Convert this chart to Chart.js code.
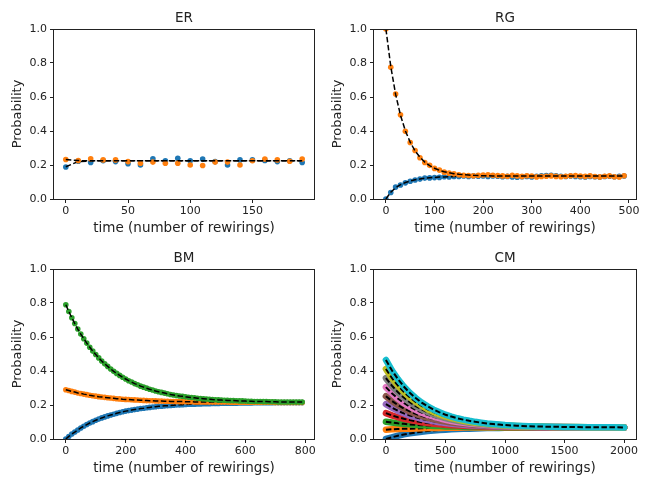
<!DOCTYPE html>
<html>
<head>
<meta charset="utf-8">
<script src="https://cdn.jsdelivr.net/npm/chart.js@4.4.0/dist/chart.umd.min.js"></script>
<style>
  html, body { margin: 0; padding: 0; background: #fff; overflow: hidden; }
  .panel { position: absolute; }
</style>
</head>
<body>
<div class="panel" style="left:0;top:0"><canvas id="er" width="323" height="240"></canvas></div>
<div class="panel" style="left:323px;top:0"><canvas id="rg" width="324" height="240"></canvas></div>
<div class="panel" style="left:0;top:240px"><canvas id="bm" width="323" height="240"></canvas></div>
<div class="panel" style="left:323px;top:240px"><canvas id="cm" width="324" height="240"></canvas></div>
<script>
// tab10 colours used by the simulation points
const C = {
    blue: '#1f77b4', orange: '#ff7f0e', green: '#2ca02c', red: '#d62728', purple: '#9467bd',
    brown: '#8c564b', pink: '#e377c2', gray: '#7f7f7f', olive: '#bcbd22', cyan: '#17becf'
};

const yTicks = [0, 0.2, 0.4, 0.6, 0.8, 1.0];

// ---- ER ----
const erTime = [0, 10, 20, 30, 40, 50, 60, 70, 80, 90, 100, 110, 120, 130, 140, 150, 160, 170, 180, 190];
const erBlue = [0.188, 0.222, 0.215, 0.225, 0.220, 0.207, 0.200, 0.237, 0.225, 0.240, 0.225, 0.235, 0.220, 0.200, 0.230, 0.230, 0.227, 0.220, 0.225, 0.215];
const erOrange = [0.232, 0.226, 0.237, 0.230, 0.230, 0.220, 0.210, 0.217, 0.210, 0.210, 0.200, 0.197, 0.217, 0.217, 0.200, 0.225, 0.235, 0.230, 0.222, 0.235];
const erBlueFit = [0.190, 0.220, 0.224, 0.225, 0.225, 0.225, 0.225, 0.225, 0.225, 0.225, 0.225, 0.225, 0.225, 0.225, 0.225, 0.225, 0.225, 0.225, 0.225, 0.225];
const erOrangeFit = [0.232, 0.226, 0.225, 0.225, 0.225, 0.225, 0.225, 0.225, 0.225, 0.225, 0.225, 0.225, 0.225, 0.225, 0.225, 0.225, 0.225, 0.225, 0.225, 0.225];
const erXTicks = [0, 50, 100, 150];

// ---- RG ----
const rgTime = [0, 10, 20, 30, 40, 50, 60, 70, 80, 90, 100, 110, 120, 130, 140, 150, 160, 170, 180, 190,
    200, 210, 220, 230, 240, 250, 260, 270, 280, 290, 300, 310, 320, 330, 340, 350, 360, 370, 380, 390,
    400, 410, 420, 430, 440, 450, 460, 470, 480, 490];
const rgOrange = [1.000, 0.775, 0.618, 0.495, 0.398, 0.332, 0.285, 0.243, 0.215, 0.198,
    0.180, 0.170, 0.158, 0.152, 0.148, 0.143, 0.140, 0.138, 0.137, 0.139,
    0.141, 0.143, 0.140, 0.138, 0.136, 0.134, 0.139, 0.136, 0.133, 0.137,
    0.135, 0.130, 0.132, 0.134, 0.136, 0.133, 0.131, 0.134, 0.137, 0.138,
    0.135, 0.133, 0.136, 0.132, 0.130, 0.134, 0.136, 0.131, 0.129, 0.137];
const rgOrangeFit = [1.000, 0.780, 0.615, 0.493, 0.401, 0.334, 0.283, 0.246, 0.217, 0.196,
    0.181, 0.169, 0.160, 0.154, 0.149, 0.145, 0.143, 0.141, 0.139, 0.138,
    0.137, 0.137, 0.136, 0.136, 0.136, 0.135, 0.135, 0.135, 0.135, 0.135,
    0.135, 0.135, 0.135, 0.135, 0.135, 0.135, 0.135, 0.135, 0.135, 0.135,
    0.135, 0.135, 0.135, 0.135, 0.135, 0.135, 0.135, 0.135, 0.135, 0.135];
const rgBlue = [0.000, 0.038, 0.070, 0.082, 0.095, 0.104, 0.112, 0.117, 0.123, 0.124,
    0.126, 0.127, 0.131, 0.129, 0.133, 0.132, 0.135, 0.133, 0.136, 0.134,
    0.135, 0.132, 0.136, 0.134, 0.131, 0.133, 0.130, 0.128, 0.131, 0.133,
    0.130, 0.134, 0.136, 0.138, 0.140, 0.137, 0.134, 0.132, 0.135, 0.133,
    0.131, 0.130, 0.133, 0.131, 0.129, 0.132, 0.134, 0.131, 0.133, 0.135];
const rgBlueFit = [0.000, 0.040, 0.066, 0.084, 0.097, 0.106, 0.113, 0.118, 0.122, 0.125,
    0.127, 0.129, 0.130, 0.131, 0.132, 0.133, 0.134, 0.134, 0.135, 0.135,
    0.135, 0.135, 0.135, 0.135, 0.135, 0.135, 0.135, 0.135, 0.135, 0.135,
    0.135, 0.135, 0.135, 0.135, 0.135, 0.135, 0.135, 0.135, 0.135, 0.135,
    0.135, 0.135, 0.135, 0.135, 0.135, 0.135, 0.135, 0.135, 0.135, 0.135];
const rgXTicks = [0, 100, 200, 300, 400, 500];

// ---- BM ----
const bmTime = [0, 10, 20, 30, 40, 50, 60, 70, 80, 90, 100, 110, 120, 130, 140, 150, 160, 170, 180, 190,
    200, 210, 220, 230, 240, 250, 260, 270, 280, 290, 300, 310, 320, 330, 340, 350, 360, 370, 380, 390,
    400, 410, 420, 430, 440, 450, 460, 470, 480, 490, 500, 510, 520, 530, 540, 550, 560, 570, 580, 590,
    600, 610, 620, 630, 640, 650, 660, 670, 680, 690, 700, 710, 720, 730, 740, 750, 760, 770, 780, 790];
const bmGreen = [0.790, 0.750, 0.713, 0.679, 0.647, 0.617, 0.590, 0.564, 0.540, 0.517,
    0.497, 0.477, 0.459, 0.442, 0.427, 0.412, 0.398, 0.386, 0.374, 0.363,
    0.353, 0.343, 0.335, 0.326, 0.319, 0.311, 0.305, 0.299, 0.293, 0.288,
    0.282, 0.278, 0.274, 0.270, 0.266, 0.262, 0.259, 0.256, 0.253, 0.251,
    0.248, 0.246, 0.244, 0.242, 0.240, 0.238, 0.237, 0.235, 0.234, 0.232,
    0.231, 0.230, 0.229, 0.228, 0.227, 0.226, 0.226, 0.225, 0.224, 0.224,
    0.223, 0.222, 0.222, 0.221, 0.221, 0.221, 0.220, 0.220, 0.219, 0.219,
    0.219, 0.218, 0.218, 0.218, 0.218, 0.217, 0.217, 0.217, 0.217, 0.217];
const bmOrange = [0.290, 0.285, 0.280, 0.276, 0.271, 0.268, 0.264, 0.261, 0.257, 0.254,
    0.252, 0.249, 0.247, 0.245, 0.243, 0.241, 0.239, 0.237, 0.236, 0.234,
    0.233, 0.232, 0.231, 0.230, 0.229, 0.228, 0.227, 0.226, 0.225, 0.225,
    0.224, 0.223, 0.223, 0.222, 0.222, 0.221, 0.221, 0.220, 0.220, 0.220,
    0.219, 0.219, 0.219, 0.218, 0.218, 0.218, 0.218, 0.218, 0.217, 0.217,
    0.217, 0.217, 0.217, 0.217, 0.217, 0.216, 0.216, 0.216, 0.216, 0.216,
    0.216, 0.216, 0.216, 0.216, 0.216, 0.216, 0.216, 0.216, 0.216, 0.216,
    0.215, 0.215, 0.215, 0.215, 0.215, 0.215, 0.215, 0.215, 0.215, 0.215];
const bmBlue = [0.000, 0.015, 0.029, 0.041, 0.053, 0.065, 0.075, 0.085, 0.094, 0.102,
    0.110, 0.117, 0.124, 0.130, 0.136, 0.141, 0.146, 0.151, 0.156, 0.160,
    0.164, 0.167, 0.170, 0.173, 0.176, 0.179, 0.181, 0.184, 0.186, 0.188,
    0.190, 0.192, 0.193, 0.195, 0.196, 0.197, 0.199, 0.200, 0.201, 0.202,
    0.203, 0.204, 0.204, 0.205, 0.206, 0.206, 0.207, 0.208, 0.208, 0.209,
    0.209, 0.209, 0.210, 0.210, 0.210, 0.211, 0.211, 0.211, 0.212, 0.212,
    0.212, 0.212, 0.212, 0.213, 0.213, 0.213, 0.213, 0.213, 0.213, 0.213,
    0.214, 0.214, 0.214, 0.214, 0.214, 0.214, 0.214, 0.214, 0.214, 0.214];
const bmXTicks = [0, 200, 400, 600, 800];

// ---- CM ----
const cmTime = [0, 50, 100, 150, 200, 250, 300, 350, 400, 450, 500, 550, 600, 650, 700, 750, 800, 850, 900, 950,
    1000, 1100, 1200, 1300, 1400, 1500, 1600, 1700, 1800, 1900, 2000];
const cmBlue = [0.000, 0.010, 0.019, 0.027, 0.033, 0.038, 0.043, 0.047, 0.050, 0.053, 0.055, 0.057, 0.059, 0.060, 0.061, 0.062, 0.063, 0.064, 0.065, 0.065, 0.066, 0.066, 0.067, 0.067, 0.067, 0.068, 0.068, 0.068, 0.068, 0.068, 0.068];
const cmOrange = [0.055, 0.057, 0.059, 0.060, 0.061, 0.062, 0.063, 0.064, 0.065, 0.065, 0.066, 0.066, 0.066, 0.067, 0.067, 0.067, 0.067, 0.067, 0.067, 0.067, 0.068, 0.068, 0.068, 0.068, 0.068, 0.068, 0.068, 0.068, 0.068, 0.068, 0.068];
const cmGreen = [0.102, 0.097, 0.092, 0.089, 0.086, 0.083, 0.081, 0.079, 0.077, 0.076, 0.074, 0.073, 0.073, 0.072, 0.071, 0.071, 0.070, 0.070, 0.070, 0.069, 0.069, 0.069, 0.069, 0.068, 0.068, 0.068, 0.068, 0.068, 0.068, 0.068, 0.068];
const cmRed = [0.152, 0.139, 0.128, 0.119, 0.111, 0.105, 0.099, 0.094, 0.090, 0.087, 0.084, 0.081, 0.079, 0.078, 0.076, 0.075, 0.074, 0.073, 0.072, 0.072, 0.071, 0.070, 0.070, 0.069, 0.069, 0.069, 0.068, 0.068, 0.068, 0.068, 0.068];
const cmPurple = [0.205, 0.184, 0.166, 0.151, 0.138, 0.128, 0.118, 0.111, 0.104, 0.099, 0.094, 0.090, 0.087, 0.084, 0.081, 0.079, 0.078, 0.076, 0.075, 0.074, 0.073, 0.072, 0.071, 0.070, 0.069, 0.069, 0.069, 0.068, 0.068, 0.068, 0.068];
const cmBrown = [0.252, 0.224, 0.200, 0.180, 0.162, 0.148, 0.136, 0.125, 0.117, 0.109, 0.103, 0.097, 0.093, 0.089, 0.086, 0.083, 0.081, 0.079, 0.077, 0.076, 0.075, 0.073, 0.071, 0.070, 0.070, 0.069, 0.069, 0.069, 0.068, 0.068, 0.068];
const cmPink = [0.305, 0.269, 0.238, 0.212, 0.190, 0.171, 0.155, 0.142, 0.131, 0.121, 0.113, 0.106, 0.100, 0.095, 0.091, 0.088, 0.085, 0.082, 0.080, 0.078, 0.077, 0.074, 0.072, 0.071, 0.070, 0.070, 0.069, 0.069, 0.069, 0.068, 0.068];
const cmGray = [0.358, 0.314, 0.276, 0.244, 0.217, 0.194, 0.175, 0.158, 0.144, 0.133, 0.123, 0.114, 0.107, 0.101, 0.096, 0.092, 0.088, 0.085, 0.082, 0.080, 0.078, 0.075, 0.073, 0.072, 0.071, 0.070, 0.069, 0.069, 0.069, 0.069, 0.068];
const cmOlive = [0.412, 0.359, 0.315, 0.277, 0.245, 0.218, 0.195, 0.175, 0.159, 0.145, 0.133, 0.123, 0.115, 0.107, 0.101, 0.096, 0.092, 0.088, 0.085, 0.083, 0.080, 0.077, 0.074, 0.073, 0.071, 0.070, 0.070, 0.069, 0.069, 0.069, 0.068];
const cmCyan = [0.465, 0.404, 0.353, 0.309, 0.272, 0.241, 0.214, 0.192, 0.173, 0.157, 0.143, 0.132, 0.122, 0.114, 0.107, 0.101, 0.096, 0.091, 0.088, 0.085, 0.082, 0.078, 0.075, 0.073, 0.072, 0.071, 0.070, 0.069, 0.069, 0.069, 0.068];
const cmXTicks = [0, 500, 1000, 1500, 2000];

const FONT = '"DejaVu Sans", "Liberation Sans", sans-serif';
const INK = '#222';

function pts(xs, ys) { return xs.map((x, i) => ({ x: x, y: ys[i] })); }

function dots(xs, ys, color) {
    return { data: pts(xs, ys), showLine: false, pointRadius: 2.8, pointHoverRadius: 2.8,
             pointBackgroundColor: color, pointBorderWidth: 0 };
}
function band(xs, ys, color) {
    return { data: pts(xs, ys), showLine: true, borderColor: color, borderWidth: 6.5,
             borderCapStyle: 'round', pointRadius: 0 };
}
function fit(xs, ys, w) {
    return { data: pts(xs, ys), showLine: true, borderColor: '#000', borderWidth: w || 1.5,
             borderDash: [5.5, 2.5], pointRadius: 0 };
}

// frame (all four spines) + subplot title
const framePlugin = {
    id: 'frame',
    afterDraw(chart, args, o) {
        const { ctx, chartArea: a } = chart;
        ctx.save();
        ctx.strokeStyle = INK;
        ctx.lineWidth = 1;
        ctx.strokeRect(Math.round(a.left) - 0.5, Math.round(a.top) + 0.5,
                       Math.round(a.right - a.left) + 1, Math.round(a.bottom - a.top));
        ctx.fillStyle = INK;
        ctx.font = '13.5px ' + FONT;
        ctx.textAlign = 'center';
        ctx.textBaseline = 'alphabetic';
        ctx.fillText(o.text, (a.left + a.right) / 2, a.top - 7.5);
        ctx.restore();
    }
};

function makePanel(id, cfg) {
    // matplotlib draws in call order, later on top; chart.js puts lower order on top
    cfg.datasets.forEach((d, i) => { d.order = cfg.datasets.length - i; });
    return new Chart(document.getElementById(id), {
        type: 'scatter',
        data: { datasets: cfg.datasets },
        options: {
            responsive: false,
            animation: false,
            events: [],
            layout: { padding: { top: 29, right: cfg.padRight, left: 0, bottom: 0 } },
            plugins: { legend: { display: false }, tooltip: { enabled: false }, frame: { text: cfg.title } },
            scales: {
                x: {
                    type: 'linear', min: cfg.xMin, max: cfg.xMax,
                    afterFit: s => { s.height = 41; },
                    afterBuildTicks: s => { s.ticks = cfg.xTicks.map(v => ({ value: v })); },
                    ticks: { autoSkip: false, maxRotation: 0, padding: 2, color: INK,
                             font: { family: FONT, size: 11 }, callback: v => String(v) },
                    grid: { drawOnChartArea: false, tickLength: 4, color: INK },
                    border: { display: false },
                    title: { display: true, text: 'time (number of rewirings)', color: INK,
                             font: { family: FONT, size: 13.5 }, padding: { top: 0, bottom: 3 } }
                },
                y: {
                    type: 'linear', min: 0, max: 1,
                    afterFit: s => { s.width = cfg.yWidth; },
                    afterBuildTicks: s => { s.ticks = yTicks.map(v => ({ value: v })); },
                    ticks: { padding: 3, color: INK, font: { family: FONT, size: 11 },
                             callback: v => v.toFixed(1) },
                    grid: { drawOnChartArea: false, tickLength: 4, color: INK },
                    border: { display: false },
                    title: { display: true, text: 'Probability', color: INK,
                             font: { family: FONT, size: 13 }, padding: { top: cfg.yTitlePad, bottom: 0 } }
                }
            }
        },
        plugins: [framePlugin]
    });
}

makePanel('er', {
    title: 'ER', xMin: -9.5, xMax: 199.5, xTicks: erXTicks, yWidth: 54, padRight: 9, yTitlePad: 10,
    datasets: [
        dots(erTime, erBlue, C.blue), fit(erTime, erBlueFit),
        dots(erTime, erOrange, C.orange), fit(erTime, erOrangeFit)
    ]
});

makePanel('rg', {
    title: 'RG', xMin: -24.5, xMax: 514.5, xTicks: rgXTicks, yWidth: 51, padRight: 11, yTitlePad: 7,
    datasets: [
        dots(rgTime, rgBlue, C.blue), fit(rgTime, rgBlueFit),
        dots(rgTime, rgOrange, C.orange), fit(rgTime, rgOrangeFit)
    ]
});

makePanel('bm', {
    title: 'BM', xMin: -39.5, xMax: 829.5, xTicks: bmXTicks, yWidth: 54, padRight: 9, yTitlePad: 10,
    datasets: [
        dots(bmTime, bmBlue, C.blue), fit(bmTime, bmBlue),
        dots(bmTime, bmOrange, C.orange), fit(bmTime, bmOrange),
        dots(bmTime, bmGreen, C.green), fit(bmTime, bmGreen)
    ]
});

const cmSeries = [
    [cmBlue, C.blue], [cmOrange, C.orange], [cmGreen, C.green], [cmRed, C.red], [cmPurple, C.purple],
    [cmBrown, C.brown], [cmPink, C.pink], [cmGray, C.gray], [cmOlive, C.olive], [cmCyan, C.cyan]
];
const cmSets = [];
cmSeries.forEach(([ys, col]) => { cmSets.push(band(cmTime, ys, col)); cmSets.push(fit(cmTime, ys, 2)); });

makePanel('cm', {
    title: 'CM', xMin: -100, xMax: 2100, xTicks: cmXTicks, yWidth: 51, padRight: 11, yTitlePad: 7,
    datasets: cmSets
});
</script>
</body>
</html>
